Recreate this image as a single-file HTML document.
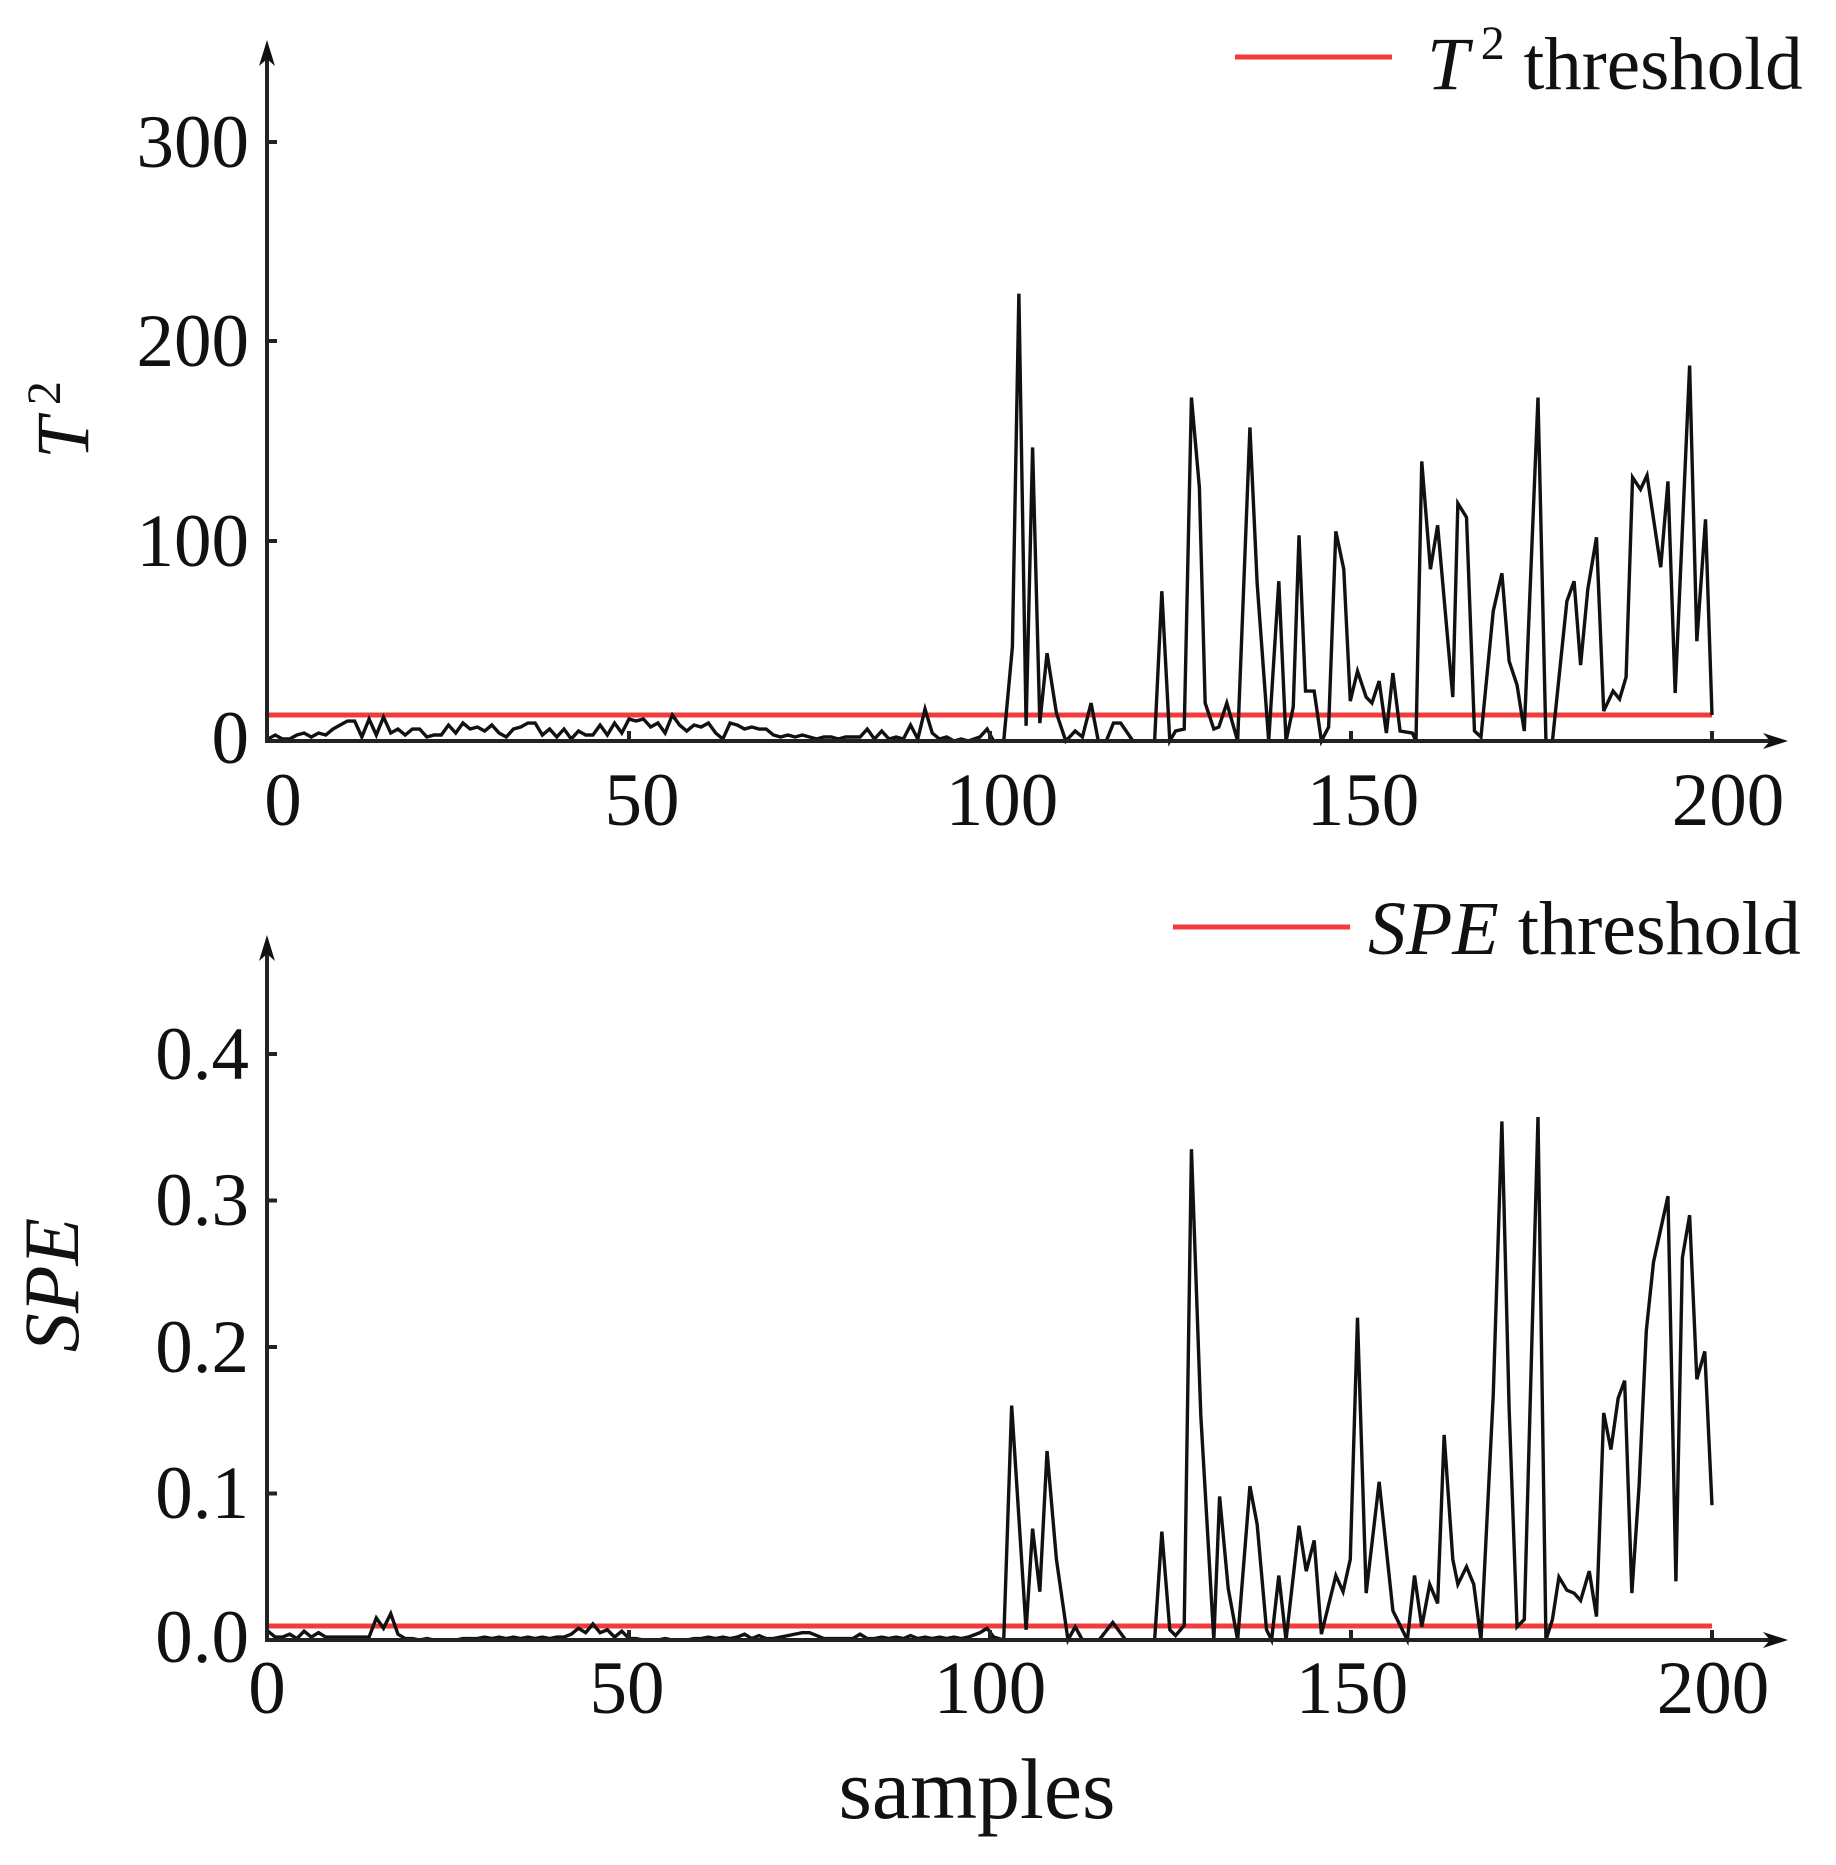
<!DOCTYPE html>
<html><head><meta charset="utf-8"><style>
html,body{margin:0;padding:0;background:#fff;}
svg{display:block;}
text{font-family:"Liberation Serif",serif;fill:#111;}
</style></head><body>
<svg width="1836" height="1865" viewBox="0 0 1836 1865" xmlns="http://www.w3.org/2000/svg">
<rect width="1836" height="1865" fill="#fff"/>

<!-- ===== TOP PLOT ===== -->
<line x1="268" y1="715" x2="1712" y2="715" stroke="#f23c3c" stroke-width="5"/>
<g transform="translate(268,741) scale(7.22,-1.997)">
<polyline fill="none" stroke="#111" stroke-width="3.4" vector-effect="non-scaling-stroke" stroke-linejoin="miter" points="
0,1 1,3 2,1 3,1 4,3 5,4 6,2 7,4 8,3 9,6 10,8 11,10 12,10 13,2 14,11 15,3 16,12 17,4 18,6 19,3 20,6 21,6 22,2 23,3 24,3 25,8 26,4 27,9 28,6 29,7 30,5 31,8 32,4 33,2 34,6 35,7 36,9 37,9 38,3 39,6 40,2 41,6 42,1 43,5 44,3 45,3 46,8 47,3 48,9 49,4 50,11 51,10 52,11 53,7 54,9 55,4 56,13 57,8 58,5 59,8 60,7 61,9 62,4 63,1 64,9 65,8 66,6 67,7 68,6 69,6 70,3 71,2 72,3 73,2 74,3 75,2 76,1 77,2 78,2 79,1 80,2 81,2 82,2 83,6 84,1 85,5 86,1 87,2 88,1 89,8 90,1 91,16 92,4 93,1 94,2 95,0 96,1 97,0 98.6,2 99.6,6 100.5,0 101.9,0 103.1,47 104,224 105,7.6 105.9,147 106.9,9 107.9,44 109.2,14 110.5,0 111.8,5 112.8,2 114,19 115,0 116.1,0 117.1,9 118.1,9 119.8,0 122.8,0 123.8,75 124.9,0 125.7,5 126.9,6 127.9,172 129,127 129.8,19 131,6 131.7,7 132.8,19 134.3,0 136,157 137,79 138.6,0 140,80 141,0 142,17 142.8,103 143.7,25 144.9,25 145.9,0 146.9,7 147.9,105 149,86 149.9,20 150.9,35 152.1,22 152.9,19 153.9,30 154.9,4 155.8,34 156.8,5 158.5,4 159,0 159.8,140 161,86 162,108 164.1,22 164.8,119 166,112 167.1,5 168,2 169.7,65 170.9,84 171.9,40 173,28 174,5 175.9,172 177,0 177.9,0 179.9,70 180.9,80 181.8,38 182.8,76 184,102 185,15 186.3,25 187.2,21 188.1,32 189,132 190.1,126 191,133 192.9,87 193.9,130 194.9,24 196.9,188 197.9,50 199.1,111 200,13"/>
</g>
<g stroke="#222" stroke-width="4">
<line x1="267" y1="50" x2="267" y2="743"/>
<line x1="265" y1="741" x2="1778" y2="741"/>
<line x1="267" y1="142" x2="277" y2="142"/>
<line x1="267" y1="341" x2="277" y2="341"/>
<line x1="267" y1="541" x2="277" y2="541"/>
<line x1="629" y1="741" x2="629" y2="731"/>
<line x1="990" y1="741" x2="990" y2="731"/>
<line x1="1351" y1="741" x2="1351" y2="731"/>
<line x1="1712" y1="741" x2="1712" y2="731"/>
</g>
<polygon points="267,40 259,66 267,59 275,66" fill="#111"/>
<polygon points="1788,741 1763,733 1770,741 1763,749" fill="#111"/>
<g font-size="75" text-anchor="end">
<text x="249" y="167">300</text>
<text x="249" y="366">200</text>
<text x="249" y="566">100</text>
<text x="249" y="763">0</text>
</g>
<g font-size="75" text-anchor="middle">
<text x="283" y="825">0</text>
<text x="642" y="825">50</text>
<text x="1002" y="825">100</text>
<text x="1363" y="825">150</text>
<text x="1728" y="825">200</text>
</g>
<text transform="translate(88,420) rotate(-90)" font-size="75" text-anchor="middle"><tspan font-style="italic">T</tspan><tspan font-size="48" dy="-28"> 2</tspan></text>
<line x1="1235" y1="57" x2="1392" y2="57" stroke="#f23c3c" stroke-width="5"/>
<text x="1427" y="89" font-size="75"><tspan font-style="italic">T</tspan><tspan font-size="48" dy="-30"> 2</tspan><tspan dy="30"> threshold</tspan></text>

<!-- ===== BOTTOM PLOT ===== -->
<line x1="268" y1="1626" x2="1712" y2="1626" stroke="#f23c3c" stroke-width="5"/>
<g transform="translate(268,1640) scale(7.22,-1465)">
<polyline fill="none" stroke="#111" stroke-width="3.4" vector-effect="non-scaling-stroke" points="
0,0.006 1,0.002 2,0.002 3,0.004 4,0.001 5,0.006 6,0.002 7,0.005 8,0.002 9,0.002 10,0.002 11,0.002 12,0.002 13,0.002 14,0.002 15,0.015 16,0.008 17,0.018 18,0.004 19,0.001 20,0.001 21,0 22,0.001 23,0 24,0 25,0 26,0 27,0.001 28,0.001 29,0.001 30,0.002 31,0.001 32,0.002 33,0.001 34,0.002 35,0.001 36,0.002 37,0.001 38,0.002 39,0.001 40,0.002 41,0.002 42,0.004 43,0.008 44,0.005 45,0.011 46,0.005 47,0.007 48,0.002 49,0.006 50,0.001 51,0.001 52,0 53,0 54,0 55,0.001 56,0 57,0 58,0 59,0.001 60,0.001 61,0.002 62,0.001 63,0.002 64,0.001 65,0.002 66,0.004 67,0.001 68,0.003 69,0.001 70,0.001 71,0.002 72,0.003 73,0.004 74,0.005 75,0.005 76,0.003 77,0.001 78,0.001 79,0.001 80,0.001 81,0.001 82,0.004 83,0.001 84,0.001 85,0.002 86,0.001 87,0.002 88,0.001 89,0.003 90,0.001 91,0.002 92,0.001 93,0.002 94,0.001 95,0.002 96,0.001 97,0.002 98.6,0.005 99.6,0.008 100.5,0.002 101.9,0 103,0.160 105,0.007 105.9,0.076 106.9,0.033 107.9,0.129 109.2,0.055 110.8,0 111.8,0.009 112.8,0 115.1,0 117,0.012 118.8,0 122.8,0 123.8,0.074 124.9,0.007 125.7,0.003 126.9,0.010 127.9,0.335 129.2,0.153 131,0 131.8,0.098 133,0.035 134.3,0 136,0.105 137,0.079 138.3,0.007 139,0 140,0.044 141,0 142.8,0.078 143.8,0.047 144.9,0.068 145.9,0.004 147.9,0.044 148.9,0.033 149.9,0.055 150.9,0.220 152.1,0.032 153.9,0.108 155.8,0.020 157.8,0 158.8,0.044 159.8,0.009 160.9,0.038 162,0.025 162.9,0.140 164.1,0.055 164.8,0.038 166,0.05 167,0.038 168,0 169.7,0.167 170.9,0.354 171.9,0.158 173,0.009 174,0.014 175.9,0.357 177,0 177.9,0.014 178.8,0.043 179.9,0.034 180.9,0.032 181.8,0.027 183,0.047 184,0.016 185,0.155 186,0.130 187,0.165 187.9,0.177 188.9,0.032 189.9,0.105 190.9,0.211 191.9,0.258 193.9,0.303 195,0.040 195.9,0.261 196.9,0.290 197.9,0.178 199,0.197 200,0.092"/>
</g>
<g stroke="#222" stroke-width="4">
<line x1="267" y1="945" x2="267" y2="1642"/>
<line x1="265" y1="1640" x2="1778" y2="1640"/>
<line x1="267" y1="1054" x2="277" y2="1054"/>
<line x1="267" y1="1200.5" x2="277" y2="1200.5"/>
<line x1="267" y1="1347" x2="277" y2="1347"/>
<line x1="267" y1="1493.5" x2="277" y2="1493.5"/>
<line x1="629" y1="1640" x2="629" y2="1630"/>
<line x1="990" y1="1640" x2="990" y2="1630"/>
<line x1="1351" y1="1640" x2="1351" y2="1630"/>
<line x1="1712" y1="1640" x2="1712" y2="1630"/>
</g>
<polygon points="267,935 259,961 267,954 275,961" fill="#111"/>
<polygon points="1788,1640 1763,1632 1770,1640 1763,1648" fill="#111"/>
<g font-size="75" text-anchor="end">
<text x="249" y="1079">0.4</text>
<text x="249" y="1225">0.3</text>
<text x="249" y="1372">0.2</text>
<text x="249" y="1518">0.1</text>
<text x="249" y="1662">0.0</text>
</g>
<g font-size="75" text-anchor="middle">
<text x="267" y="1713">0</text>
<text x="627" y="1713">50</text>
<text x="990" y="1713">100</text>
<text x="1352" y="1713">150</text>
<text x="1713" y="1713">200</text>
</g>
<text transform="translate(78,1285) rotate(-90)" font-size="78" text-anchor="middle" font-style="italic">SPE</text>
<line x1="1173" y1="927" x2="1350" y2="927" stroke="#f23c3c" stroke-width="5"/>
<text x="1368" y="954" font-size="76"><tspan font-style="italic">SPE</tspan> threshold</text>
<text x="977" y="1818" font-size="86" text-anchor="middle">samples</text>
</svg>
</body></html>
